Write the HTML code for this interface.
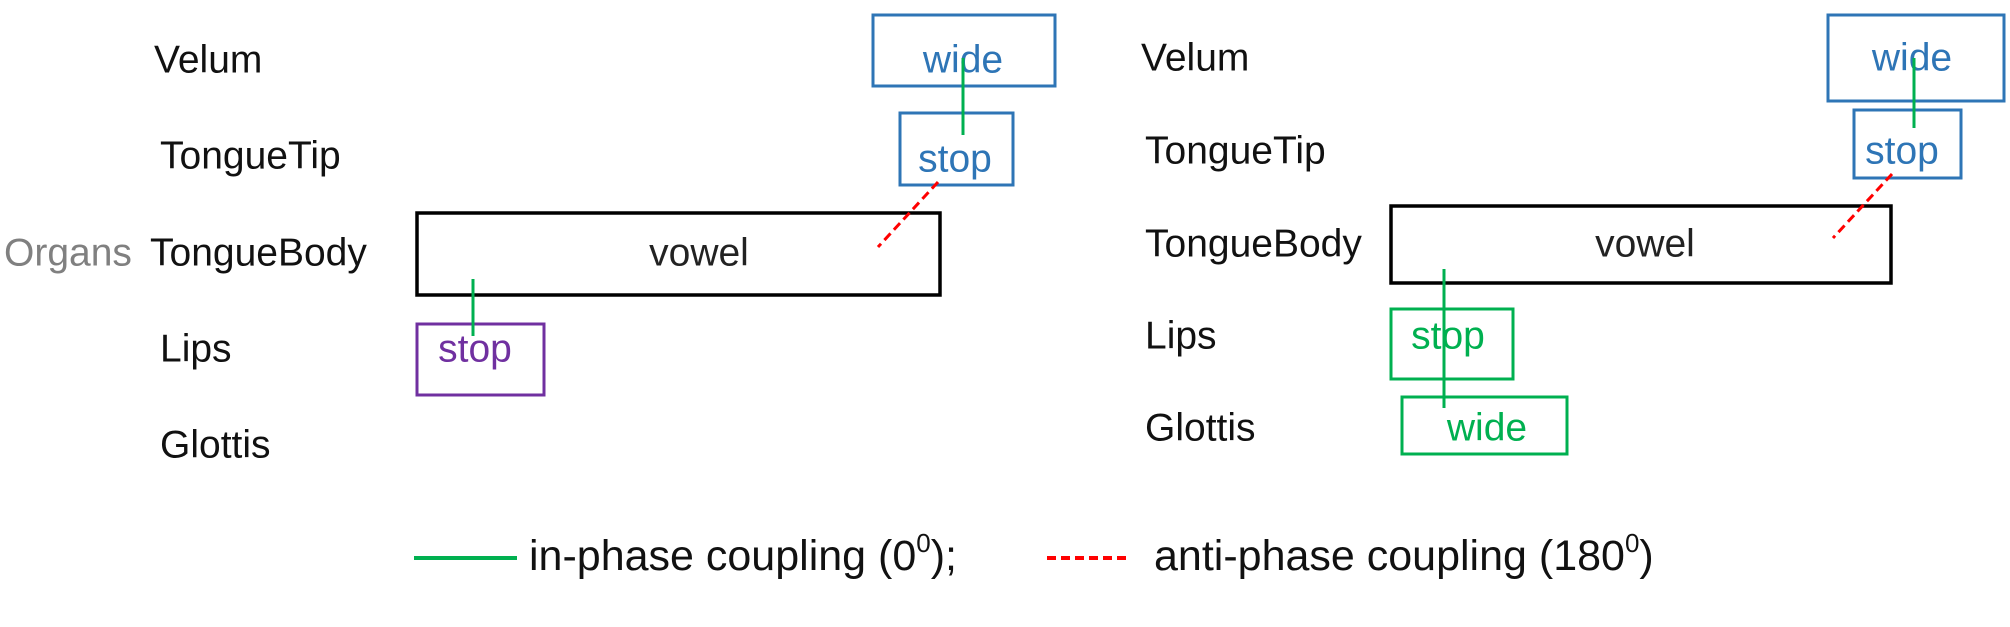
<!DOCTYPE html>
<html><head><meta charset="utf-8"><style>
body{margin:0;background:#fff;}
svg text{font-family:"Liberation Sans",sans-serif;font-size:39px;dominant-baseline:central;}
</style></head><body>
<svg width="2010" height="622" xmlns="http://www.w3.org/2000/svg">
<g fill="#111">
<text x="154" y="60">Velum</text>
<text x="160" y="156">TongueTip</text>
<text x="4" y="253" fill="#808080">Organs</text>
<text x="150" y="253">TongueBody</text>
<text x="160" y="349">Lips</text>
<text x="160" y="445">Glottis</text>
<text x="1141" y="58">Velum</text>
<text x="1145" y="151">TongueTip</text>
<text x="1145" y="244">TongueBody</text>
<text x="1145" y="336">Lips</text>
<text x="1145" y="428">Glottis</text>
</g>
<g fill="none" stroke-width="3">
<rect x="873" y="15" width="182" height="71" stroke="#2E75B6"/>
<rect x="900" y="113" width="113" height="72" stroke="#2E75B6"/>
<rect x="417" y="213" width="523" height="82" stroke="#000" stroke-width="3.5"/>
<rect x="417" y="324" width="127" height="71" stroke="#7030A0"/>
<rect x="1828" y="15" width="176" height="86" stroke="#2E75B6"/>
<rect x="1854" y="110" width="107" height="68" stroke="#2E75B6"/>
<rect x="1391" y="206" width="500" height="77" stroke="#000" stroke-width="3.5"/>
<rect x="1391" y="309" width="122" height="70" stroke="#00B050"/>
<rect x="1402" y="397" width="165" height="57" stroke="#00B050"/>
</g>
<text x="963" y="60" fill="#2E75B6" text-anchor="middle">wide</text>
<text x="955" y="159" fill="#2E75B6" text-anchor="middle">stop</text>
<text x="699" y="253" fill="#222" text-anchor="middle">vowel</text>
<text x="475" y="349" fill="#7030A0" text-anchor="middle">stop</text>
<text x="1912" y="58" fill="#2E75B6" text-anchor="middle">wide</text>
<text x="1902" y="151" fill="#2E75B6" text-anchor="middle">stop</text>
<text x="1645" y="244" fill="#222" text-anchor="middle">vowel</text>
<text x="1448" y="336" fill="#00B050" text-anchor="middle">stop</text>
<text x="1487" y="428" fill="#00B050" text-anchor="middle">wide</text>
<g stroke="#00B050" stroke-width="3">
<line x1="473" y1="279" x2="473" y2="336"/>
<line x1="963" y1="58" x2="963" y2="135"/>
<line x1="1444" y1="269" x2="1444" y2="408"/>
<line x1="1914" y1="58" x2="1914" y2="128"/>
</g>
<g stroke="#FF0000" stroke-width="3" stroke-dasharray="9,5">
<line x1="938" y1="182" x2="878" y2="247"/>
<line x1="1892" y1="174" x2="1833" y2="238"/>
</g>
<line x1="414" y1="558" x2="517" y2="558" stroke="#00B050" stroke-width="4"/>
<line x1="1047" y1="558" x2="1126" y2="558" stroke="#FF0000" stroke-width="4" stroke-dasharray="9,5"/>
<text x="529" y="556" fill="#111" style="font-size:43px">in-phase coupling (0<tspan dy="-13" style="font-size:26px">0</tspan><tspan dy="13">);</tspan></text>
<text x="1154" y="556" fill="#111" style="font-size:43px">anti-phase coupling (180<tspan dy="-13" style="font-size:26px">0</tspan><tspan dy="13">)</tspan></text>
</svg>
</body></html>
